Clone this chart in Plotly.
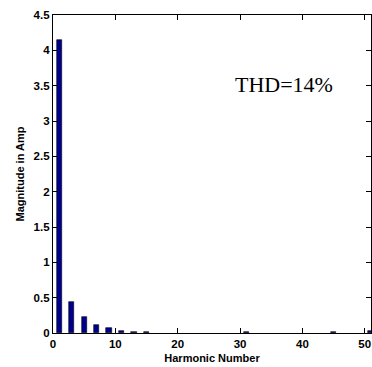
import plotly.graph_objects as go

harmonics = [1, 3, 5, 7, 9, 11, 13, 15, 17, 19, 21, 23, 25, 27, 29, 31, 33, 35, 37, 39, 41, 43, 45, 47, 49, 51]
magnitudes = [4.15, 0.44, 0.23, 0.12, 0.075, 0.035, 0.008, 0.02, 0, 0, 0, 0, 0, 0, 0,
              0.02, 0, 0, 0, 0, 0, 0, 0.02, 0, 0, 0.03]
x_ticks = [0, 10, 20, 30, 40, 50]
y_ticks = [0, 0.5, 1, 1.5, 2, 2.5, 3, 3.5, 4, 4.5]
annotation_text = "THD=14%"

fig = go.Figure()
fig.add_trace(go.Bar(
    x=harmonics, y=magnitudes, width=0.85,
    marker=dict(color="#00008F",
                line=dict(color="black", width=[0.6 if m > 0 else 0 for m in magnitudes])),
))

axis_common = dict(
    showgrid=False, zeroline=False, showline=True, linecolor="black", linewidth=1.2,
    mirror="allticks", ticks="inside", ticklen=5, tickcolor="black", tickwidth=1,
    tickfont=dict(family="Liberation Sans, Arial", size=11.5, color="black", weight="bold"),
)
fig.update_xaxes(range=[0, 51], tickvals=x_ticks,
                 title=dict(text="Harmonic Number", font=dict(family="Liberation Sans, Arial", size=11, color="black", weight="bold"), standoff=5),
                 **axis_common)
fig.update_yaxes(range=[0, 4.5], tickvals=y_ticks, ticktext=[str(v) for v in y_ticks],
                 title=dict(text="Magnitude in Amp", font=dict(family="Liberation Sans, Arial", size=11, color="black", weight="bold"), standoff=6),
                 **axis_common)

fig.add_annotation(x=28.9, y=3.51, xref="x", yref="y", text=annotation_text, showarrow=False,
                   xanchor="left", yanchor="middle",
                   font=dict(family="Liberation Serif, Times New Roman", size=22, color="black"))

fig.update_layout(
    width=372, height=367,
    margin=dict(l=53, r=1, t=15, b=34),
    plot_bgcolor="white", paper_bgcolor="white",
    showlegend=False, bargap=0,
)
fig.write_html("out.html")
